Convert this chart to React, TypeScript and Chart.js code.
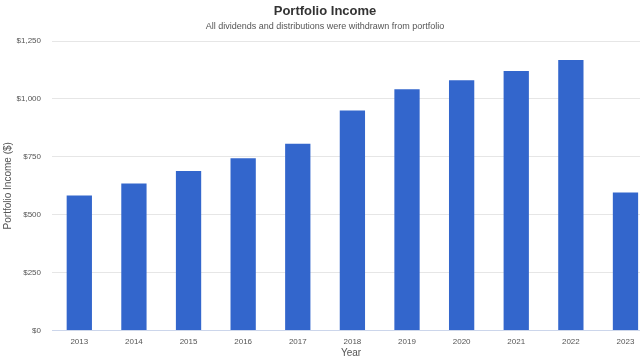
import React, { useEffect, useRef } from "react";
import { Chart, registerables } from "chart.js";

Chart.register(...registerables);

const years: number[] = [2013, 2014, 2015, 2016, 2017, 2018, 2019, 2020, 2021, 2022, 2023];
const income: number[] = [583, 635, 689, 744, 806, 950, 1042, 1081, 1120, 1168, 596];
const yTicks: number[] = [0, 250, 500, 750, 1000, 1250];

const FONT = "'Liberation Sans', Arial, sans-serif";

export default function App() {
  const ref = useRef<HTMLCanvasElement | null>(null);

  useEffect(() => {
    if (!ref.current) return;
    const chart = new Chart(ref.current, {
      type: "bar",
      data: {
        datasets: [
          {
            label: "Portfolio Income",
            data: years.map((y, i) => ({ x: y, y: income[i] })),
            backgroundColor: "#3366cc",
            borderWidth: 0,
            barPercentage: 0.463,
            categoryPercentage: 1,
          },
        ],
      },
      options: {
        responsive: false,
        animation: false,
        layout: { padding: { left: 0, right: 0, top: 0, bottom: 0 } },
        plugins: {
          legend: { display: false },
          tooltip: { enabled: false },
          title: {
            display: true,
            text: "Portfolio Income",
            color: "#333333",
            font: { family: FONT, size: 13, weight: "bold" },
            padding: { top: 4, bottom: 2 },
          },
          subtitle: {
            display: true,
            text: "All dividends and distributions were withdrawn from portfolio",
            color: "#555555",
            font: { family: FONT, size: 9 },
            padding: { top: 0, bottom: 8.6 },
          },
        },
        scales: {
          x: {
            type: "linear",
            offset: false,
            min: 2012.5,
            max: 2023.449,
            grid: { display: false, drawTicks: false, offset: false },
            border: { display: true, color: "#ccd6eb", width: 1 },
            ticks: {
              includeBounds: false,
              stepSize: 1,
              autoSkip: false,
              maxRotation: 0,
              padding: 6,
              color: "#555555",
              font: { family: FONT, size: 8 },
              callback: (v: any) => (Number.isInteger(v) && years.includes(v) ? String(v) : ""),
            },
            title: {
              display: true,
              text: "Year",
              color: "#555555",
              font: { family: FONT, size: 10 },
              padding: { top: 1, bottom: 0 },
            },
            afterFit: (scale: any) => {
              scale.height = 28.5;
            },
          },
          y: {
            min: 0,
            max: 1250,
            afterBuildTicks: (scale: any) => {
              scale.ticks = yTicks.map((v) => ({ value: v }));
            },
            grid: { color: "#e6e6e6", drawTicks: false },
            border: { display: false },
            ticks: {
              padding: 11,
              color: "#555555",
              font: { family: FONT, size: 8 },
              callback: (v: any) => "$" + Number(v).toLocaleString("en-US"),
            },
            title: {
              display: true,
              text: "Portfolio Income ($)",
              color: "#555555",
              font: { family: FONT, size: 10 },
              padding: { top: 2, bottom: 0 },
            },
            afterFit: (scale: any) => {
              scale.width = 52;
            },
          },
        },
      } as any,
    });
    return () => chart.destroy();
  }, []);

  return (
    <div style={{ position: "fixed", left: 0, top: 0, width: 640, height: 359, overflow: "hidden", background: "#ffffff" }}>
      <canvas ref={ref} width={650} height={359} style={{ display: "block" }} />
    </div>
  );
}
